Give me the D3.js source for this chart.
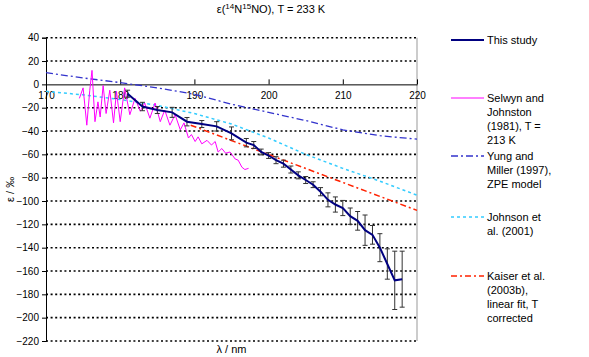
<!DOCTYPE html>
<html>
<head>
<meta charset="utf-8">
<script src="https://cdn.jsdelivr.net/npm/d3@7"></script>
<style>
  body { margin: 0; background: #fff; }
  svg { display: block; font-family: "Liberation Sans", Arial, sans-serif; }
</style>
</head>
<body>
<div id="chart"></div>
<script>
// values (lambda in nm, epsilon in permil)
const lambdaStudy = [181, 183, 185, 187, 189, 191, 193, 195, 197, 198, 199, 200, 201, 202, 203,
  204, 205, 206, 207, 208, 209, 210, 211, 212, 213, 214, 215, 216, 217, 218];
const epsStudy = [-8, -19, -22, -24, -32, -34, -36, -42, -50, -52, -58, -61, -65, -68, -73,
  -78, -82, -86, -92, -99, -103, -106, -113, -117, -125, -129, -140, -154, -168, -167];
const errStudy = [3, 3.6, 3, 4.3, 3.6, 3, 4, 5.5, 3.6, 3, 2.5, 2.5, 3, 3, 3,
  3, 3, 2.5, 3.5, 6, 6.5, 6.5, 7, 8, 13, 8, 12, 13, 25, 24];

const lambdaSelwyn = [174.5, 175.0, 175.5, 175.9, 176.2, 176.6, 177.0, 177.3, 177.7, 178.1, 178.6,
  179.1, 179.5, 180.0, 180.6, 181.3, 182.0, 182.7, 183.3, 184.0, 184.7, 185.4, 186.0, 186.7,
  187.4, 188.1, 188.6, 189.2, 189.6, 190.1, 190.5, 191.0, 191.7, 192.3, 192.8, 193.2, 193.7,
  194.2, 194.8, 195.5, 195.9, 196.4, 196.8, 197.3];
const epsSelwyn = [-12, -3, -35, -5, 12, -32, -15, -28, -1, -25, -5,
  -33, -6, -32, -3, -26, -12, -23, -16, -29, -16, -32, -22, -35,
  -26, -39, -33, -46, -43, -49, -45, -51, -48, -52, -49, -58, -55,
  -59, -58, -64, -65, -71, -73, -72];

const lambdaYung = [170, 175, 180, 185, 190, 195, 200, 205, 210, 215, 220];
const epsYung = [10, 5.5, 1.5, -3, -8.5, -17, -24, -31, -39, -44, -47];

const lambdaJohnson = [170, 175, 180, 185, 190, 195, 200, 205, 210, 215, 220];
const epsJohnson = [-6, -9, -13, -18, -25, -34, -46, -60, -72, -83, -95];

const lambdaKaiser = [189.5, 220];
const epsKaiser = [-35, -108];

const xTicks = [170, 180, 190, 200, 210, 220];
const yTicks = [40, 20, 0, -20, -40, -60, -80, -100, -120, -140, -160, -180, -200, -220];

const legendItems = [
  { key: "study", lines: ["This study"], y: 40 },
  { key: "selwyn", lines: ["Selwyn and", "Johnston", "(1981), T =", "213 K"], y: 98 },
  { key: "yung", lines: ["Yung and", "Miller (1997),", "ZPE model"], y: 156 },
  { key: "johnson", lines: ["Johnson et", "al. (2001)"], y: 217 },
  { key: "kaiser", lines: ["Kaiser et al.", "(2003b),", "linear fit, T", "corrected"], y: 276 },
];

const styles = {
  study: { color: "#000080", width: 2, dash: null },
  selwyn: { color: "#ff00ff", width: 1, dash: null },
  yung: { color: "#3333cc", width: 1.3, dash: "7,3,2,3" },
  johnson: { color: "#33ccff", width: 1.5, dash: "3,3" },
  kaiser: { color: "#ff2200", width: 1.5, dash: "6,3,2,3" },
};

const svgWidth = 589;
const svgHeight = 357;
const plotLeft = 46;
const plotRight = 417;
const plotTop = 37.7;
const plotBottom = 341;

const svg = d3.select("#chart")
  .append("svg")
  .attr("width", svgWidth)
  .attr("height", svgHeight);

const x = d3.scaleLinear().domain([170, 220]).range([plotLeft, plotRight]);
const y = d3.scaleLinear().domain([-220, 40]).range([plotBottom, plotTop]);

// dotted gridlines (no line at zero, that is the x axis)
svg.append("g")
  .selectAll("line")
  .data(yTicks.filter((d) => d !== 0))
  .join("line")
  .attr("x1", plotLeft)
  .attr("x2", plotRight)
  .attr("y1", (d) => y(d))
  .attr("y2", (d) => y(d))
  .attr("stroke", "#000")
  .attr("stroke-width", 1.6)
  .attr("stroke-dasharray", "2,2.6");

// right border
svg.append("line")
  .attr("x1", plotRight).attr("x2", plotRight)
  .attr("y1", plotTop).attr("y2", plotBottom)
  .attr("stroke", "#999").attr("stroke-width", 1);

// y axis
const yAxis = svg.append("g")
  .attr("transform", `translate(${plotLeft},0)`)
  .call(d3.axisLeft(y).tickValues(yTicks).tickSize(4).tickPadding(3).tickFormat(d3.format("d")));
yAxis.select(".domain").attr("stroke", "#000");
yAxis.selectAll("text").attr("font-size", 10).attr("fill", "#000")
  .attr("font-family", "Liberation Sans, Arial, sans-serif");

// x axis at epsilon = 0, ticks pointing up, labels below
const xAxis = svg.append("g")
  .attr("transform", `translate(0,${y(0)})`)
  .call(d3.axisBottom(x).tickValues(xTicks).tickSizeInner(-5).tickSizeOuter(0).tickPadding(8));
xAxis.select(".domain").attr("stroke", "#000");
xAxis.selectAll("text").attr("font-size", 10).attr("fill", "#000")
  .attr("font-family", "Liberation Sans, Arial, sans-serif");

const line = d3.line()
  .x((d) => x(d[0]))
  .y((d) => y(d[1]));

const drawSeries = function (lambdas, values, key) {
  const s = styles[key];
  svg.append("path")
    .datum(d3.zip(lambdas, values))
    .attr("d", line)
    .attr("fill", "none")
    .attr("stroke", s.color)
    .attr("stroke-width", s.width)
    .attr("stroke-dasharray", s.dash);
};

drawSeries(lambdaYung, epsYung, "yung");
drawSeries(lambdaJohnson, epsJohnson, "johnson");
drawSeries(lambdaKaiser, epsKaiser, "kaiser");
drawSeries(lambdaSelwyn, epsSelwyn, "selwyn");

// error bars for this study
const bars = svg.append("g")
  .attr("stroke", "#333")
  .attr("stroke-width", 1)
  .selectAll("g")
  .data(d3.zip(lambdaStudy, epsStudy, errStudy))
  .join("g");
bars.append("line")
  .attr("x1", (d) => x(d[0])).attr("x2", (d) => x(d[0]))
  .attr("y1", (d) => y(d[1] + d[2])).attr("y2", (d) => y(d[1] - d[2]));
bars.append("line")
  .attr("x1", (d) => x(d[0]) - 2.5).attr("x2", (d) => x(d[0]) + 2.5)
  .attr("y1", (d) => y(d[1] + d[2])).attr("y2", (d) => y(d[1] + d[2]));
bars.append("line")
  .attr("x1", (d) => x(d[0]) - 2.5).attr("x2", (d) => x(d[0]) + 2.5)
  .attr("y1", (d) => y(d[1] - d[2])).attr("y2", (d) => y(d[1] - d[2]));

drawSeries(lambdaStudy, epsStudy, "study");

// title with superscripts
const title = svg.append("text")
  .attr("x", 271)
  .attr("y", 13)
  .attr("text-anchor", "middle")
  .attr("font-size", 11)
  .attr("fill", "#000");
title.append("tspan").text("ε(");
title.append("tspan").attr("font-size", 8).attr("dy", -4).text("14");
title.append("tspan").attr("dy", 4).text("N");
title.append("tspan").attr("font-size", 8).attr("dy", -4).text("15");
title.append("tspan").attr("dy", 4).text("NO), T = 233 K");

// axis titles
svg.append("text")
  .attr("transform", `translate(14,${(plotTop + plotBottom) / 2}) rotate(-90)`)
  .attr("text-anchor", "middle")
  .attr("font-size", 11)
  .text("ε / ‰");

svg.append("text")
  .attr("x", (plotLeft + plotRight) / 2)
  .attr("y", 353)
  .attr("text-anchor", "middle")
  .attr("font-size", 11)
  .text("λ / nm");

// legend
const legend = svg.append("g")
  .selectAll("g")
  .data(legendItems)
  .join("g")
  .attr("transform", (d) => `translate(451,${d.y})`);

legend.append("line")
  .attr("x1", 0).attr("x2", 33)
  .attr("stroke", (d) => styles[d.key].color)
  .attr("stroke-width", (d) => styles[d.key].width)
  .attr("stroke-dasharray", (d) => styles[d.key].dash);

legend.append("text")
  .attr("font-size", 11)
  .attr("fill", "#000")
  .selectAll("tspan")
  .data((d) => d.lines)
  .join("tspan")
  .attr("x", 36)
  .attr("y", (d, i) => i * 13.9 + 4)
  .text((d) => d);
</script>
</body>
</html>
